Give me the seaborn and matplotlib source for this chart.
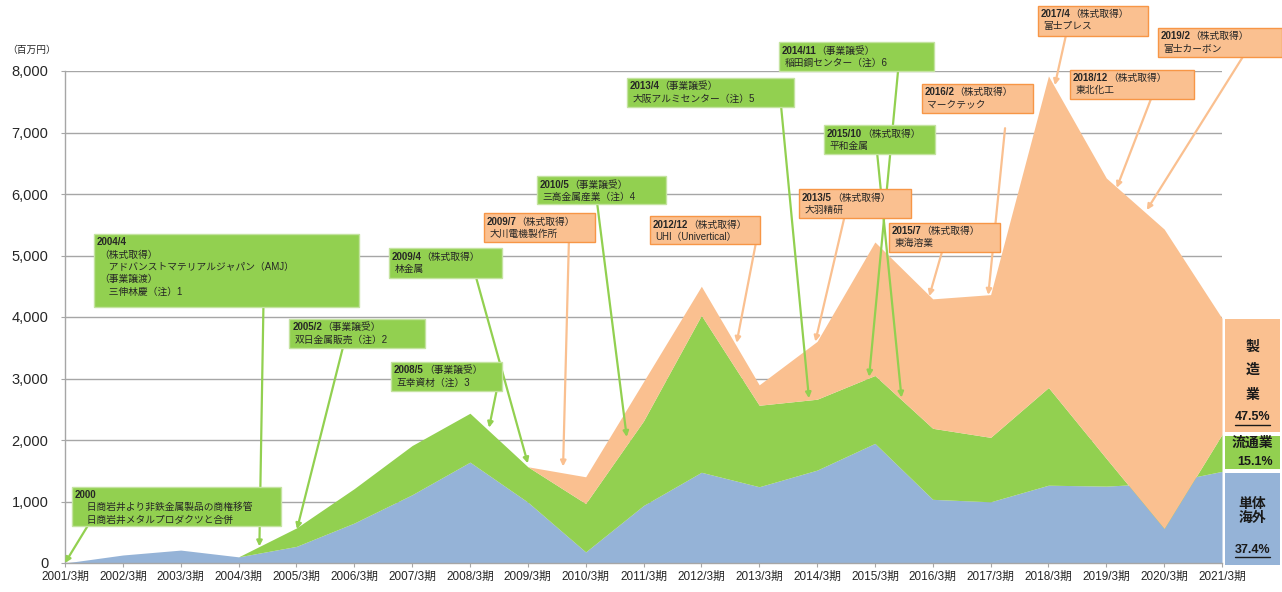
import matplotlib
matplotlib.use('Agg')
import matplotlib.pyplot as plt
import seaborn as sns
from matplotlib.patches import Rectangle
from matplotlib.lines import Line2D

# ---- data (百万円) ----
periods = [f'{y}/3期' for y in range(2001, 2022)]
overseas = [0, 130, 210, 100, 270, 650, 1110, 1640, 990, 180, 935,
            1475, 1240, 1510, 1945, 1035, 995, 1265, 1250, 1300, 1490]
distribution = [0, 0, 0, 0, 300, 560, 800, 795, 575, 787, 1375,
                2552, 1325, 1153, 1104, 1155, 1048, 1588, 450, -740, 600]
manufacturing = [0, 0, 0, 0, 0, 0, 0, 0, 0, 435, 640,
                 473, 332, 940, 2171, 2105, 2321, 5067, 4560, 4870, 1890]
segment_names = ['単体\n海外', '流通業', '製\n造\n業']

BLUE = '#95B3D7'
GREEN = '#92D050'
ORANGE = '#FAC090'
GRID = '#A6A6A6'

sns.set_style('white')
plt.rcParams['font.family'] = ['Liberation Sans', 'Noto Sans CJK JP', 'DejaVu Sans']

fig = plt.figure(figsize=(12.82, 5.92), dpi=100)
ax = fig.add_axes([65 / 1282, 29 / 592, 1157 / 1282, 492 / 592])

x = list(range(len(periods)))
ax.stackplot(x, overseas, distribution, manufacturing,
             colors=[BLUE, GREEN, ORANGE], linewidth=0, zorder=2)

ax.set_xlim(0, len(periods) - 1)
ax.set_ylim(0, 8000)
ax.set_yticks(range(0, 8001, 1000))
ax.set_yticklabels([f'{v:,}' for v in range(0, 8001, 1000)], fontsize=10.5)
ax.set_xticks(x)
ax.set_xticklabels(periods, fontsize=8.5)
ax.yaxis.grid(True, color=GRID, lw=1.0)
ax.set_axisbelow(True)
ax.tick_params(axis='y', length=3, color=GRID, pad=9, left=True)
ax.tick_params(axis='x', length=3, color=GRID, pad=3, bottom=True)
sns.despine(ax=ax, top=True, right=True)
for side in ['left', 'bottom']:
    ax.spines[side].set_color(GRID)
    ax.spines[side].set_linewidth(1.0)

fig.text(7 / 1282, 1 - 50 / 592, '（百万円）', fontsize=7, va='center')

# ---- annotation boxes ----
styles = {
    'g': (GREEN, '#C4E3A0', GREEN),
    'o': (ORANGE, '#F79646', ORANGE),
}


def note(box, date, head, body, kind, start, tip):
    x0, x1, y0, y1 = box
    fill, edge, arrow_c = styles[kind]
    ax.annotate('', xy=tip, xytext=start, zorder=5, annotation_clip=False,
                arrowprops=dict(arrowstyle='-|>', color=arrow_c, lw=1.6,
                                mutation_scale=8, shrinkA=0, shrinkB=0))
    ax.add_patch(Rectangle((x0, y0), x1 - x0, y1 - y0, facecolor=fill,
                           edgecolor=edge, lw=1.0, zorder=6, clip_on=False))
    t = ax.annotate(date, xy=(x0, y1), xytext=(2, -2.5), textcoords='offset points',
                    ha='left', va='top', fontsize=7, weight='bold', zorder=7,
                    annotation_clip=False)
    if head:
        ax.annotate(head, xy=(1, 0.5), xycoords=t, ha='left', va='center',
                    fontsize=7, zorder=7, annotation_clip=False)
    if body:
        ax.annotate(body, xy=(0, 0), xycoords=t, xytext=(2, -1.5),
                    textcoords='offset points', ha='left', va='top',
                    fontsize=7, linespacing=1.3, zorder=7, annotation_clip=False)


note((0.12, 3.74, 600, 1240), '2000', '',
     '　日商岩井より非鉄金属製品の商権移管\n　日商岩井メタルプロダクツと合併',
     'g', (0.39, 600), (0.0, 0))
note((0.50, 5.08, 4168, 5350), '2004/4', '',
     '（株式取得）\n　アドバンストマテリアルジャパン（AMJ）\n（事業譲渡）\n　三伸林慶（注）1',
     'g', (3.43, 4168), (3.36, 270))
note((3.88, 6.22, 3490, 3970), '2005/2', '（事業譲受）', '双日金属販売（注）2',
     'g', (4.80, 3490), (4.01, 550))
note((5.64, 7.56, 2800, 3270), '2008/5', '（事業譲受）', '互幸資材（注）3',
     'g', (7.46, 2800), (7.33, 2200))
note((5.60, 7.55, 4630, 5120), '2009/4', '（株式取得）', '林金属',
     'g', (7.11, 4630), (8.0, 1620))
note((7.24, 9.16, 5220, 5690), '2009/7', '（株式取得）', '大川電機製作所',
     'o', (8.71, 5220), (8.61, 1570))
note((8.16, 10.39, 5840, 6290), '2010/5', '（事業譲受）', '三高金属産業（注）4',
     'g', (9.20, 5840), (9.71, 2050))
note((10.11, 12.01, 5190, 5640), '2012/12', '（株式取得）', 'UHI（Univertical）',
     'o', (11.94, 5190), (11.61, 3580))
note((9.71, 12.60, 7410, 7890), '2013/4', '（事業譲受）', '大阪アルミセンター（注）5',
     'g', (12.38, 7410), (12.86, 2680))
note((12.34, 15.02, 8000, 8470), '2014/11', '（事業譲受）', '稲田鋼センター（注）6',
     'g', (14.40, 8000), (13.90, 3030))
note((13.12, 15.04, 6650, 7120), '2015/10', '（株式取得）', '平和金属',
     'g', (14.04, 6650), (14.46, 2690))
note((12.69, 14.62, 5610, 6080), '2013/5', '（株式取得）', '大羽精研',
     'o', (13.47, 5610), (12.97, 3600))
note((14.24, 16.16, 5060, 5530), '2015/7', '（株式取得）', '東海溶業',
     'o', (15.16, 5060), (14.94, 4340))
note((14.81, 16.73, 7320, 7790), '2016/2', '（株式取得）', 'マークテック',
     'o', (16.25, 7070), (15.96, 4360))
note((16.82, 18.72, 8570, 9060), '2017/4', '（株式取得）', '富士プレス',
     'o', (17.30, 8570), (17.11, 7770))
note((17.37, 19.52, 7540, 8020), '2018/12', '（株式取得）', '東北化工',
     'o', (18.77, 7540), (18.18, 6100))
note((18.89, 21.04, 8230, 8700), '2019/2', '（株式取得）', '富士カーボン',
     'o', (20.36, 8230), (18.70, 5740))

# ---- share boxes for the last period ----
last = [overseas[-1], distribution[-1], manufacturing[-1]]
total = sum(last)
shares = [v / total * 100 for v in last]
colors = [BLUE, GREEN, ORANGE]
bx0, bx1 = 20.05, 21.0
cx = (bx0 + bx1) / 2
lower = 0
for i, (v, c) in enumerate(zip(last, colors)):
    top = lower + v
    bottom = lower + (40 if i else -40)
    ax.add_patch(Rectangle((bx0, bottom), bx1 - bx0, top - bottom - 20,
                           facecolor=c, edgecolor='none', zorder=6, clip_on=False))
    lower = top

txt_kw = dict(ha='center', va='center', fontsize=10, weight='bold',
              color='#1a1a1a', zorder=7, clip_on=False)
pct_kw = dict(ha='center', va='center', fontsize=9, weight='bold',
              color='#1a1a1a', zorder=7, clip_on=False)
# manufacturing
for ch, yv in zip(segment_names[2].split('\n'), [3510, 3140, 2730]):
    ax.text(cx, yv, ch, **txt_kw)
ax.text(cx, 2370, f'{shares[2]:.1f}%', **pct_kw)
# distribution
ax.text(cx, 1950, segment_names[1], **txt_kw)
ax.text(cx + 0.05, 1640, f'{shares[1]:.1f}%', **pct_kw)
# overseas
ax.text(cx, 850, segment_names[0], linespacing=1.0, **txt_kw)
ax.text(cx, 210, f'{shares[0]:.1f}%', **pct_kw)

for yv in [2250, 90]:
    ax.add_line(Line2D([cx - 0.3, cx + 0.3], [yv, yv], color='#1a1a1a',
                       lw=1.0, zorder=7, clip_on=False))

fig.savefig('out.png', dpi=100)
